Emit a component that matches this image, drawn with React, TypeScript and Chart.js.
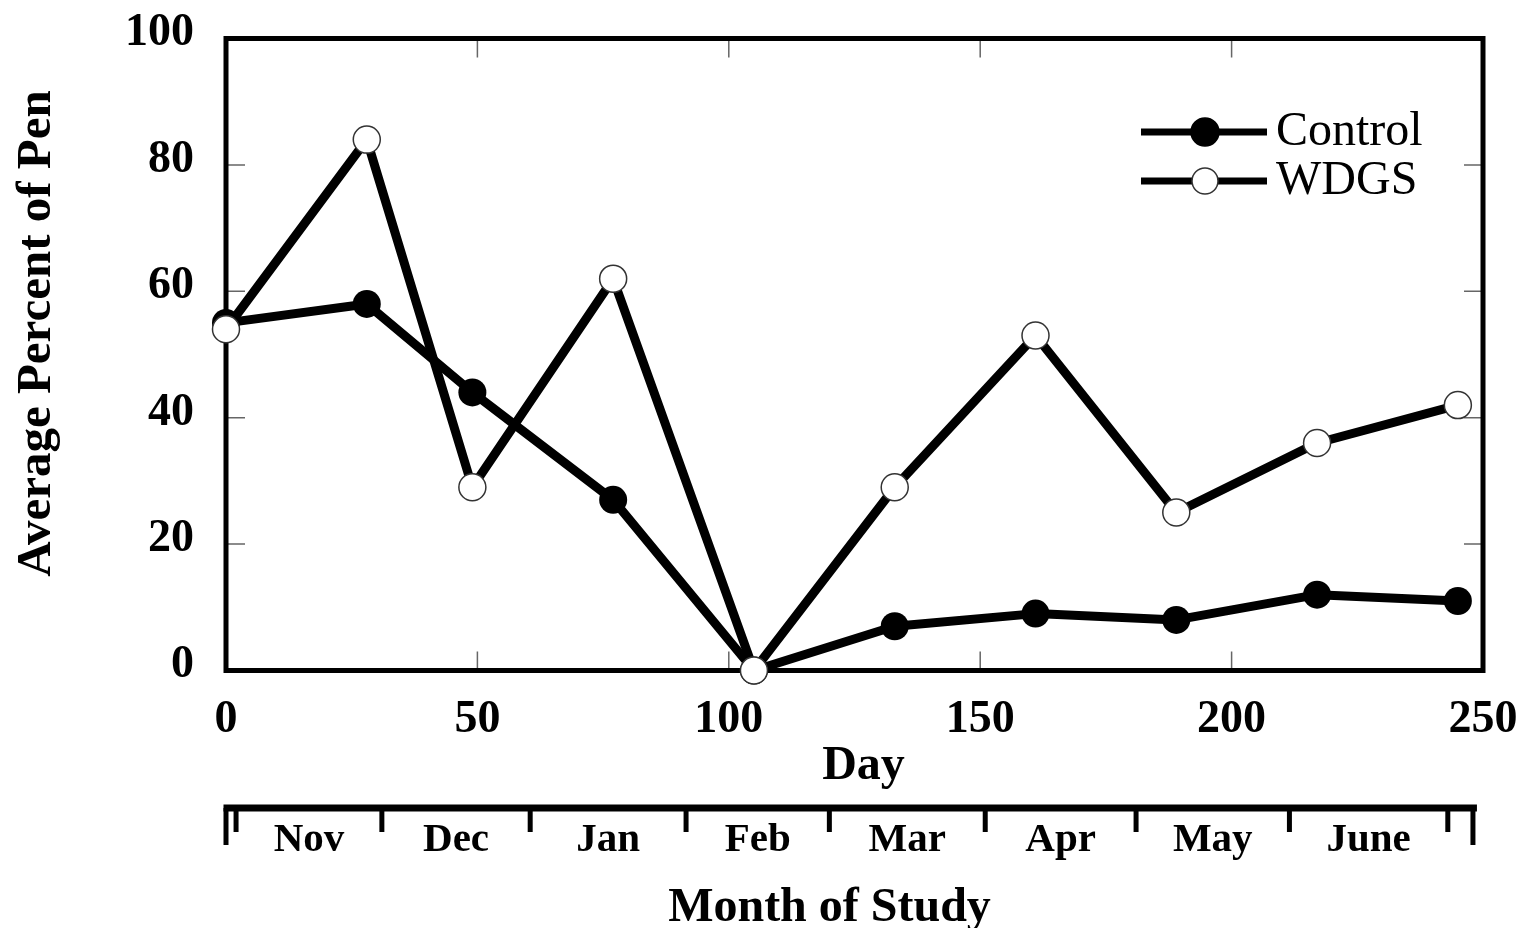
import React, { useEffect, useRef } from "react";
import { Chart, registerables } from "chart.js";

Chart.register(...registerables);

// ---- data ----
const days = [0, 28, 49, 77, 105, 133, 161, 189, 217, 245];
const controlValues = [55, 58, 44, 27, 0, 7, 9, 8, 12, 11];
const wdgsValues = [54, 84, 29, 62, 0, 29, 53, 25, 36, 42];
const seriesNames = ["Control", "WDGS"];
const yTicks = [0, 20, 40, 60, 80, 100];
const xTicks = [0, 50, 100, 150, 200, 250];
const monthLabels = ["Nov", "Dec", "Jan", "Feb", "Mar", "Apr", "May", "June"];
const monthBoundaries = [2, 31, 60.5, 91.5, 120, 151, 181, 211.5, 243];
const monthAxisEnds = [0, 248];
const xTitle = "Day";
const yTitle = "Average Percent of Pen";
const monthTitle = "Month of Study";

const FONT = "'Liberation Serif', 'Times New Roman', Times, serif";

const framePlugin = {
  id: "frameAndTicks",
  beforeDatasetsDraw(chart: any) {
    const { ctx, chartArea, scales } = chart;
    const { left, right, top, bottom } = chartArea;
    ctx.save();
    ctx.strokeStyle = "#666";
    ctx.lineWidth = 1.5;
    const len = 19;
    yTicks.slice(1, -1).forEach((v) => {
      const y = scales.y.getPixelForValue(v);
      ctx.beginPath();
      ctx.moveTo(left, y);
      ctx.lineTo(left + len, y);
      ctx.moveTo(right, y);
      ctx.lineTo(right - len, y);
      ctx.stroke();
    });
    xTicks.slice(1, -1).forEach((v) => {
      const x = scales.x.getPixelForValue(v);
      ctx.beginPath();
      ctx.moveTo(x, top);
      ctx.lineTo(x, top + len);
      ctx.moveTo(x, bottom);
      ctx.lineTo(x, bottom - len);
      ctx.stroke();
    });
    ctx.strokeStyle = "#000";
    ctx.lineWidth = 5;
    ctx.strokeRect(left, top, right - left, bottom - top);
    ctx.restore();
  },
};

const decorPlugin = {
  id: "decor",
  afterDraw(chart: any) {
    const { ctx, chartArea, scales } = chart;
    const { left, right, top, bottom } = chartArea;
    const xs = scales.x;
    ctx.save();

    // Legend
    const legendItems = [
      { name: seriesNames[0], y: top + 93.5, fill: "#000", stroke: "#000", r: 14 },
      { name: seriesNames[1], y: top + 142.5, fill: "#fff", stroke: "#333", r: 13 },
    ];
    legendItems.forEach((it) => {
      ctx.strokeStyle = "#000";
      ctx.lineWidth = 7;
      ctx.beginPath();
      ctx.moveTo(right - 342, it.y);
      ctx.lineTo(right - 216, it.y);
      ctx.stroke();
      ctx.beginPath();
      ctx.arc(right - 278, it.y, it.r, 0, Math.PI * 2);
      ctx.fillStyle = it.fill;
      ctx.fill();
      ctx.lineWidth = 1.5;
      ctx.strokeStyle = it.stroke;
      ctx.stroke();
      ctx.fillStyle = "#000";
      ctx.font = `48px ${FONT}`;
      ctx.textAlign = "left";
      ctx.textBaseline = "middle";
      ctx.fillText(it.name, right - 207, it.y);
    });

    // Y title
    ctx.save();
    ctx.translate(left - 189, (top + bottom) / 2 - 21);
    ctx.rotate(-Math.PI / 2);
    ctx.font = `bold 49px ${FONT}`;
    ctx.textAlign = "center";
    ctx.textBaseline = "middle";
    ctx.fillStyle = "#000";
    ctx.fillText(yTitle, 0, 0);
    ctx.restore();

    // X title
    ctx.font = `bold 48px ${FONT}`;
    ctx.textAlign = "center";
    ctx.textBaseline = "alphabetic";
    ctx.fillStyle = "#000";
    ctx.fillText(xTitle, (left + right) / 2 + 9, bottom + 108.5);

    // Month axis
    const lineY = bottom + 137.5;
    const x0 = xs.getPixelForValue(monthAxisEnds[0]);
    const x1 = xs.getPixelForValue(monthAxisEnds[1]);
    ctx.strokeStyle = "#000";
    ctx.lineWidth = 7;
    ctx.lineCap = "butt";
    ctx.beginPath();
    ctx.moveTo(x0 - 2.5, lineY);
    ctx.lineTo(x1 + 4, lineY);
    ctx.stroke();
    ctx.lineWidth = 5;
    [x0, x1].forEach((x) => {
      ctx.beginPath();
      ctx.moveTo(x, lineY);
      ctx.lineTo(x, bottom + 174.5);
      ctx.stroke();
    });
    monthBoundaries.forEach((d) => {
      const x = xs.getPixelForValue(d);
      ctx.beginPath();
      ctx.moveTo(x, lineY);
      ctx.lineTo(x, bottom + 161.5);
      ctx.stroke();
    });
    ctx.font = `bold 41px ${FONT}`;
    ctx.textAlign = "center";
    ctx.textBaseline = "alphabetic";
    monthLabels.forEach((m, i) => {
      const mid = (monthBoundaries[i] + monthBoundaries[i + 1]) / 2;
      ctx.fillText(m, xs.getPixelForValue(mid), bottom + 180.5);
    });
    ctx.font = `bold 48px ${FONT}`;
    ctx.fillText(monthTitle, (left + right) / 2 - 25, bottom + 250.5);

    ctx.restore();
  },
};

export default function App() {
  const canvasRef = useRef<HTMLCanvasElement | null>(null);

  useEffect(() => {
    document.body.style.margin = "0";
    const canvas = canvasRef.current;
    if (!canvas) return;
    const chart = new Chart(canvas, {
      type: "line",
      data: {
        datasets: [
          {
            label: seriesNames[0],
            data: days.map((d, i) => ({ x: d, y: controlValues[i] })),
            borderColor: "#000",
            borderWidth: 9,
            borderJoinStyle: "bevel",
            pointRadius: 14,
            pointBackgroundColor: "#000",
            pointBorderColor: "#000",
            pointBorderWidth: 0,
            clip: false,
            order: 1,
          },
          {
            label: seriesNames[1],
            data: days.map((d, i) => ({ x: d, y: wdgsValues[i] })),
            borderColor: "#000",
            borderWidth: 9,
            borderJoinStyle: "bevel",
            pointRadius: 13.5,
            pointBackgroundColor: "#fff",
            pointBorderColor: "#333",
            pointBorderWidth: 1.5,
            clip: false,
            order: 0,
          },
        ] as any,
      },
      options: {
        animation: false,
        responsive: false,
        maintainAspectRatio: false,
        layout: { padding: { left: 0, top: 38.5, right: 43, bottom: 0 } },
        plugins: {
          legend: { display: false },
          tooltip: { enabled: false },
          title: { display: false },
        },
        scales: {
          x: {
            type: "linear",
            min: 0,
            max: 250,
            afterFit: (s: any) => {
              s.height = 257.5;
              s.paddingLeft = 0;
              s.paddingRight = 0;
            },
            afterBuildTicks: (s: any) => {
              s.ticks = xTicks.map((v) => ({ value: v }));
            },
            grid: { display: false, drawTicks: false },
            border: { display: false },
            ticks: {
              color: "#000",
              padding: 22,
              maxRotation: 0,
              autoSkip: false,
              font: { family: FONT, size: 46, weight: "bold" },
            },
          },
          y: {
            type: "linear",
            min: 0,
            max: 100,
            afterFit: (s: any) => {
              s.width = 226;
              s.paddingTop = 0;
              s.paddingBottom = 0;
            },
            afterBuildTicks: (s: any) => {
              s.ticks = yTicks.map((v) => ({ value: v }));
            },
            grid: { display: false, drawTicks: false },
            border: { display: false },
            ticks: {
              color: "#000",
              padding: 32,
              labelOffset: -5,
              font: { family: FONT, size: 46, weight: "bold" },
            },
          },
        },
      } as any,
      plugins: [framePlugin, decorPlugin],
    });
    return () => chart.destroy();
  }, []);

  return (
    <div style={{ width: 1526, height: 928, background: "#fff" }}>
      <canvas ref={canvasRef} width={1526} height={928} style={{ display: "block", width: 1526, height: 928 }} />
    </div>
  );
}
